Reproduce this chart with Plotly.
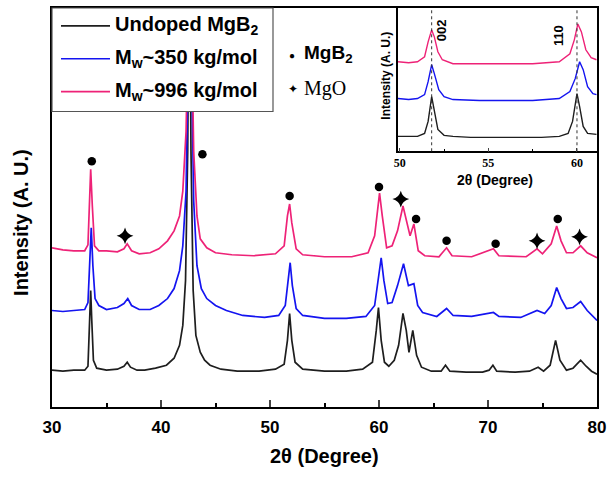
import plotly.graph_objects as go

# ---------------- data ----------------
series_names = ["Undoped MgB<sub>2</sub>", "M<sub>w</sub>~350 kg/mol", "M<sub>w</sub>~996 kg/mol"]
series_colors = ["#1e1e1e", "#1414f0", "#ee2277"]

black_x = [30.0, 31.0, 32.0, 33.0, 33.3, 33.45, 33.55, 33.65, 33.8, 34.1, 35.0, 36.0, 36.6, 36.9, 37.2,
           37.8, 38.5, 39.5, 40.5, 41.2, 41.7, 42.0, 42.25, 42.45, 42.6, 42.75, 42.95, 43.2, 43.6, 44.0,
           44.5, 45.5, 47.0, 49.0, 50.5, 51.3, 51.6, 51.8, 52.0, 52.3, 53.0, 55.0, 57.0, 58.5, 59.4,
           59.75, 59.95, 60.2, 60.5, 60.9, 61.4, 61.8, 62.2, 62.5, 62.75, 63.1, 63.45, 63.9, 64.8, 65.7,
           66.1, 66.5, 68.0, 69.5, 70.1, 70.45, 70.8, 72.5, 73.8, 74.6, 75.1, 75.7, 76.2, 76.6, 77.2,
           77.8, 78.5, 79.0, 79.5, 80.0]
black_y = [37, 36, 37, 37, 41, 87, 117, 87, 47, 39, 37, 38, 41, 45, 40,
           37, 37, 39, 42, 49, 62, 82, 127, 257, 507, 257, 117, 72, 55, 47,
           42, 38, 36, 36, 38, 43, 67, 94, 67, 45, 38, 36, 36, 38, 45,
           77, 100, 67, 45, 41, 47, 62, 94, 77, 55, 77, 52, 40, 36, 36,
           42, 36, 35, 35, 37, 42, 36, 35, 36, 40, 36, 42, 67, 47, 37,
           39, 47, 41, 36, 33]

blue_x = [30.0, 31.0, 32.0, 33.0, 33.3, 33.45, 33.6, 33.75, 33.95, 34.3, 35.0, 36.0, 36.6, 36.95, 37.3,
          38.0, 39.0, 39.8, 40.6, 41.2, 41.7, 42.0, 42.3, 42.5, 42.65, 42.8, 43.0, 43.3, 43.7, 44.2,
          45.0, 46.0, 47.5, 49.5, 50.8, 51.4, 51.7, 51.85, 52.05, 52.4, 53.0, 55.0, 57.0, 58.8, 59.6,
          59.95, 60.2, 60.45, 60.8, 61.2, 61.7, 62.25, 62.7, 63.2, 63.55, 64.0, 65.3, 66.2, 66.8, 68.5,
          70.5, 71.0, 73.0, 74.5, 75.2, 75.8, 76.3, 76.7, 77.2, 77.8, 78.5, 79.1, 79.6, 80.0]
blue_y = [97, 96, 97, 98, 105, 147, 180, 142, 109, 102, 98, 100, 104, 109, 102,
          98, 98, 102, 109, 119, 137, 162, 217, 357, 507, 347, 207, 142, 119, 109,
          102, 97, 92, 90, 92, 102, 132, 145, 122, 99, 92, 89, 89, 91, 102,
          132, 150, 127, 104, 105, 122, 144, 122, 124, 102, 95, 91, 99, 92, 91,
          95, 91, 90, 97, 94, 102, 120, 109, 99, 100, 106, 97, 91, 87]

pink_x = [30.0, 31.0, 32.0, 33.0, 33.3, 33.45, 33.55, 33.7, 33.9, 34.3, 35.0, 36.0, 36.6, 36.9, 37.3,
          38.0, 39.0, 39.8, 40.6, 41.2, 41.7, 42.0, 42.3, 42.5, 42.65, 42.8, 43.0, 43.3, 43.6, 44.2,
          45.0, 46.5, 48.5, 50.5, 51.3, 51.6, 51.8, 52.0, 52.4, 53.0, 55.0, 57.5, 59.0, 59.6, 59.9,
          60.05, 60.3, 60.7, 61.2, 61.7, 62.2, 62.6, 62.85, 63.2, 63.6, 64.2, 65.5, 66.2, 66.7, 68.5,
          70.5, 71.0, 73.5, 74.5, 75.0, 75.8, 76.3, 76.7, 77.2, 77.8, 78.5, 79.1, 80.0]
pink_y = [160, 158, 157, 157, 163, 207, 239, 202, 162, 157, 157, 156, 159, 164, 157,
          154, 155, 159, 167, 177, 192, 217, 277, 387, 507, 387, 257, 192, 169, 160,
          155, 153, 152, 154, 162, 192, 204, 185, 159, 153, 151, 151, 155, 172, 202,
          215, 192, 160, 162, 177, 202, 182, 172, 184, 157, 152, 151, 160, 152, 151,
          159, 152, 151, 159, 154, 164, 182, 167, 155, 155, 162, 155, 150]

# phase markers
mgb2_x = [33.65, 43.8, 51.8, 60.0, 63.4, 66.2, 70.7, 76.4]
mgb2_y = [247, 254, 212, 221, 189, 167, 164, 189]
mgo_x = [36.7, 62.0, 74.5, 78.4]
mgo_y = [172, 209, 167, 171]

# inset (zoom on 002 and 110 peaks)
in_black_x = [49.9, 50.5, 51.0, 51.4, 51.6, 51.8, 51.95, 52.15, 52.5, 53.0, 54.0, 55.0, 56.0, 57.0, 58.0,
              59.0, 59.5, 59.75, 60.0, 60.15, 60.35, 60.6, 61.1]
in_black_y = [15, 15, 15, 18, 30, 55, 40, 22, 16, 15, 14, 14, 14, 14, 14,
              15, 18, 30, 58, 45, 25, 18, 17]
in_blue_x = [49.9, 50.5, 51.0, 51.4, 51.6, 51.8, 51.95, 52.2, 52.5, 53.0, 54.5, 56.0, 57.5, 59.0, 59.6,
             59.9, 60.15, 60.35, 60.6, 60.9, 61.1]
in_blue_y = [53, 52, 53, 57, 70, 87, 78, 62, 55, 52, 51, 51, 51, 53, 60,
             73, 90, 82, 65, 58, 57]
in_pink_x = [49.9, 50.5, 51.0, 51.4, 51.6, 51.8, 51.95, 52.15, 52.4, 53.0, 54.5, 56.0, 57.5, 59.0, 59.6,
             59.85, 60.05, 60.25, 60.5, 60.8, 61.1]
in_pink_y = [90, 89, 90, 95, 110, 122, 115, 100, 92, 88, 88, 88, 88, 90, 98,
             112, 128, 120, 102, 94, 92]
inset_lines = [51.8, 60.0]
inset_labels = ["002", "110"]
inset_label_x = [52.35, 59.0]
inset_label_y = [122, 116]

x_ticks = [30, 40, 50, 60, 70, 80]
inset_ticks = [50, 55, 60]

# ---------------- geometry ----------------
W, H = 612, 478
L, R, T, B = 52, 597, 6, 407  # plot area in pixels


def px(xp):
    return (xp - L) / (R - L)


def py(yp):
    return (B - yp) / (B - T)


fig = go.Figure()

main = [(black_x, black_y), (blue_x, blue_y), (pink_x, pink_y)]
for (xs, ys), name, col in zip(main, series_names, series_colors):
    fig.add_trace(go.Scatter(x=xs, y=ys, mode="lines", name=name,
                             line=dict(color=col, width=1.7), showlegend=False))

fig.add_trace(go.Scatter(x=mgb2_x, y=mgb2_y, mode="markers", showlegend=False,
                         marker=dict(symbol="circle", size=8.5, color="black")))
fig.add_trace(go.Scatter(x=mgo_x, y=mgo_y, mode="markers", showlegend=False,
                         marker=dict(symbol="star-diamond", size=12, color="black")))

inset = [(in_black_x, in_black_y), (in_blue_x, in_blue_y), (in_pink_x, in_pink_y)]
for (xs, ys), col in zip(inset, series_colors):
    fig.add_trace(go.Scatter(x=xs, y=ys, mode="lines", xaxis="x2", yaxis="y2",
                             line=dict(color=col, width=1.4), showlegend=False))

bold = dict(family="Liberation Sans, Arial", color="black", weight="bold")

fig.update_layout(
    width=W, height=H,
    margin=dict(l=L, r=W - R, t=T, b=H - B),
    paper_bgcolor="white", plot_bgcolor="white",
    showlegend=False,
    xaxis=dict(range=[30, 80], tickvals=x_ticks, ticks="inside", ticklen=7, tickwidth=2,
               minor=dict(dtick=5, ticks="inside", ticklen=4, tickwidth=1.5, tickcolor="black"),
               showline=True, linecolor="black", linewidth=2, mirror=True,
               showgrid=False, zeroline=False, tickfont=dict(size=17, **bold), ticklabelstandoff=4),
    yaxis=dict(range=[0, 401], showticklabels=False, ticks="", showline=True, linecolor="black",
               linewidth=2, mirror=True, showgrid=False, zeroline=False),
    xaxis2=dict(domain=[px(398), 1.0], anchor="y2", range=[49.9, 61.13], tickvals=inset_ticks,
                ticks="inside", ticklen=4, tickwidth=1,
                minor=dict(dtick=2.5, ticks="inside", ticklen=3, tickcolor="black"),
                showline=True, linecolor="black", linewidth=1.5, mirror=True, showgrid=False,
                zeroline=False, tickfont=dict(size=12, family="Liberation Serif, Times New Roman",
                                              color="black", weight="bold"), ticklabelstandoff=0),
    yaxis2=dict(domain=[py(150), 1.0], anchor="x2", range=[0, 144], showticklabels=False, ticks="",
                showline=True, linecolor="black", linewidth=1.5, mirror=True, showgrid=False,
                zeroline=False),
)

shapes = []
for xv in inset_lines:
    shapes.append(dict(type="line", xref="x2", yref="y2 domain", x0=xv, x1=xv, y0=0, y1=1,
                       line=dict(color="#333", width=1, dash="dot"), layer="above"))
# legend box
shapes.append(dict(type="rect", xref="paper", yref="paper", x0=px(52), x1=px(273), y0=py(110), y1=py(6),
                   fillcolor="white", line=dict(color="#555", width=1.2), layer="above"))
row_y = [24, 57, 90]
for yy, col in zip(row_y, series_colors):
    shapes.append(dict(type="line", xref="paper", yref="paper", x0=px(61), x1=px(110), y0=py(yy), y1=py(yy),
                       line=dict(color=col, width=1.6), layer="above"))
fig.update_layout(shapes=shapes)

ann = []
for yy, name in zip(row_y, series_names):
    ann.append(dict(xref="paper", yref="paper", x=px(113), y=py(yy), text=name, showarrow=False,
                    xanchor="left", yanchor="middle", font=dict(size=20, **bold)))
ann.append(dict(xref="paper", yref="paper", x=px(287), y=py(53), text="●", showarrow=False,
                xanchor="left", yanchor="middle", font=dict(size=10, color="black")))
ann.append(dict(xref="paper", yref="paper", x=px(302), y=py(52), text="MgB<sub>2</sub>", showarrow=False,
                xanchor="left", yanchor="middle", font=dict(size=19, **bold)))
ann.append(dict(xref="paper", yref="paper", x=px(286), y=py(87), text="✦", showarrow=False,
                xanchor="left", yanchor="middle", font=dict(size=12, color="black")))
ann.append(dict(xref="paper", yref="paper", x=px(302), y=py(87), text="MgO", showarrow=False,
                xanchor="left", yanchor="middle",
                font=dict(size=20, family="Liberation Serif, Times New Roman", color="black")))
# axis titles
ann.append(dict(xref="paper", yref="paper", x=px(324), y=py(456), text="2θ (Degree)", showarrow=False,
                xanchor="center", yanchor="middle", font=dict(size=20, **bold)))
ann.append(dict(xref="paper", yref="paper", x=px(21), y=py(222), text="Intensity (A. U.)", showarrow=False,
                textangle=-90, xanchor="center", yanchor="middle", font=dict(size=20, **bold)))
# inset titles
ann.append(dict(xref="paper", yref="paper", x=px(495), y=py(179), text="2θ (Degree)", showarrow=False,
                xanchor="center", yanchor="middle", font=dict(size=14, **bold)))
ann.append(dict(xref="paper", yref="paper", x=px(386), y=py(74), text="Intensity (A. U.)", showarrow=False,
                textangle=-90, xanchor="center", yanchor="middle", font=dict(size=12, **bold)))
for xv, yv, lab in zip(inset_label_x, inset_label_y, inset_labels):
    ann.append(dict(xref="x2", yref="y2", x=xv, y=yv, text=lab, showarrow=False, textangle=-90,
                    xanchor="center", yanchor="middle", font=dict(size=13, **bold)))
fig.update_layout(annotations=ann)

fig.write_html("out.html")
